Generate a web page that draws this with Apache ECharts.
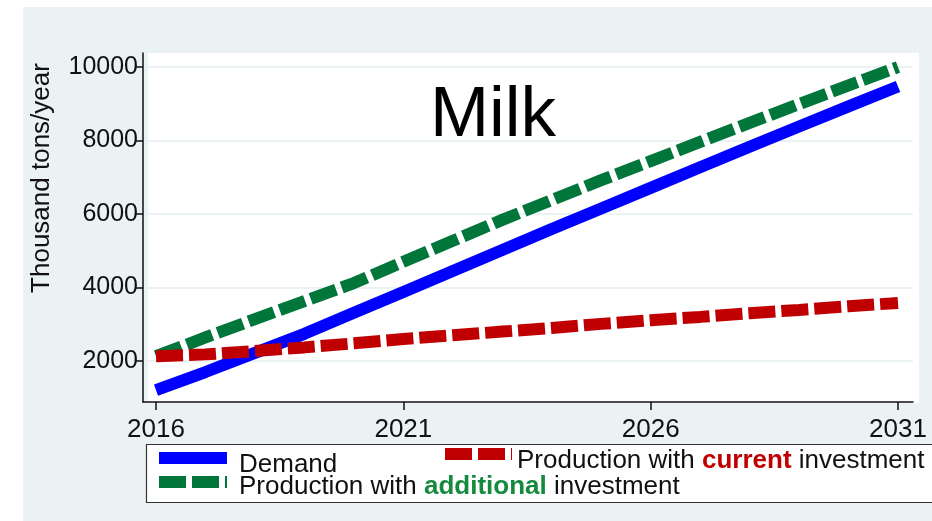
<!DOCTYPE html>
<html>
<head>
<meta charset="utf-8">
<script src="https://cdn.jsdelivr.net/npm/echarts@6/dist/echarts.min.js"></script>
<style>
  html, body { margin: 0; padding: 0; background: #fff; }
  #chart { width: 932px; height: 521px; }
</style>
</head>
<body>
<div id="chart"></div>
<script>
  // values (thousand tons/year)
  const years = [2016, 2017, 2018, 2019, 2020, 2021, 2022, 2023, 2024, 2025, 2026, 2027, 2028, 2029, 2030, 2031];
  const demand = [1210, 1700, 2220, 2740, 3310, 3880, 4450, 5020, 5590, 6150, 6710, 7270, 7830, 8380, 8930, 9470];
  const prodCurrent = [2130, 2180, 2270, 2370, 2480, 2600, 2700, 2800, 2900, 3010, 3110, 3200, 3300, 3390, 3490, 3580];
  const prodAdditional = [2130, 2640, 3140, 3630, 4120, 4700, 5270, 5840, 6380, 6920, 7440, 7960, 8480, 8990, 9500, 10000];
  const xTicks = [2016, 2021, 2026, 2031];
  const yTicks = [2000, 4000, 6000, 8000, 10000];

  const FONT = 'Liberation Sans, Arial, sans-serif';
  const BLUE = '#0000ff';
  const RED = '#c00000';
  const GREEN = '#00763a';

  function pairs(vals) {
    return years.map(function (y, i) { return [y, vals[i]]; });
  }

  let myChart = echarts.init(document.getElementById('chart'));
  let option = {
    animation: false,
    backgroundColor: '#ffffff',
    textStyle: { fontFamily: FONT },
    grid: { left: 143, right: 19, top: 53, bottom: 119, containLabel: false },
    xAxis: {
      type: 'value',
      min: 2015.737,
      max: 2031.303,
      axisLine: { show: true, lineStyle: { color: '#111', width: 1.5 } },
      axisTick: { show: true, length: 8, customValues: xTicks, lineStyle: { color: '#111', width: 1.5 } },
      axisLabel: { customValues: xTicks, color: '#111', fontSize: 26, fontFamily: FONT, margin: 15,
        formatter: function (v) { return String(v); } },
      splitLine: { show: false }
    },
    yAxis: {
      type: 'value',
      min: 884,
      max: 10381,
      axisLine: { show: true, lineStyle: { color: '#111', width: 1.5 } },
      axisTick: { show: true, length: 7, customValues: yTicks, lineStyle: { color: '#111', width: 1.5 } },
      axisLabel: { customValues: yTicks, color: '#111', fontSize: 25, fontFamily: FONT, margin: 5,
        formatter: function (v) { return String(v); } },
      splitLine: { show: true, lineStyle: { color: '#eaf2f3', width: 2 } }
    },
    graphic: [
      // outer background and white plot region
      { type: 'rect', z: -20, silent: true, shape: { x: 23, y: 7, width: 920, height: 520 }, style: { fill: '#eaf2f3' } },
      { type: 'rect', z: -10, silent: true, shape: { x: 148, y: 53, width: 771, height: 350 }, style: { fill: '#ffffff' } },
      // title inside the plot
      { type: 'text', z: 50, x: 493, y: 116, style: { text: 'Milk', font: '71px ' + FONT, fill: '#000', align: 'center', verticalAlign: 'middle' } },
      // y axis title
      { type: 'text', z: 50, x: 42, y: 178, rotation: Math.PI / 2, style: { text: 'Thousand tons/year', font: '26px ' + FONT, fill: '#111', align: 'center', verticalAlign: 'middle' } },
      // legend
      { type: 'rect', z: 60, shape: { x: 146.5, y: 444.5, width: 800, height: 58 }, style: { fill: '#ffffff', stroke: '#333', lineWidth: 1.2 } },
      { type: 'line', z: 61, shape: { x1: 159, y1: 458, x2: 227, y2: 458 }, style: { stroke: BLUE, lineWidth: 12 } },
      { type: 'text', z: 61, x: 239, y: 465, style: { text: 'Demand', font: '26px ' + FONT, fill: '#111', verticalAlign: 'middle' } },
      { type: 'line', z: 61, shape: { x1: 445, y1: 454, x2: 512, y2: 454 }, style: { stroke: RED, lineWidth: 12, lineDash: [27, 6] } },
      { type: 'text', z: 61, x: 517, y: 461, style: {
          text: 'Production with {c|current} investment', font: '26px ' + FONT, fill: '#111', verticalAlign: 'middle',
          rich: { c: { fontFamily: FONT, fontSize: 26, fontWeight: 'bold', fill: RED, color: RED } }
        } },
      { type: 'line', z: 61, shape: { x1: 159, y1: 482, x2: 227, y2: 482 }, style: { stroke: GREEN, lineWidth: 12, lineDash: [27, 6] } },
      { type: 'text', z: 61, x: 239, y: 487, style: {
          text: 'Production with {g|additional} investment', font: '26px ' + FONT, fill: '#111', verticalAlign: 'middle',
          rich: { g: { fontFamily: FONT, fontSize: 26, fontWeight: 'bold', fill: '#158a3e', color: '#158a3e' } }
        } }
    ],
    series: [
      {
        name: 'Demand',
        type: 'line',
        data: pairs(demand),
        showSymbol: false,
        z: 3,
        lineStyle: { color: BLUE, width: 12 },
        itemStyle: { color: BLUE }
      },
      {
        name: 'Production with additional investment',
        type: 'line',
        data: pairs(prodAdditional),
        showSymbol: false,
        z: 4,
        lineStyle: { color: GREEN, width: 12, type: [27, 6] },
        itemStyle: { color: GREEN }
      },
      {
        name: 'Production with current investment',
        type: 'line',
        data: pairs(prodCurrent),
        showSymbol: false,
        z: 5,
        lineStyle: { color: RED, width: 12, type: [27, 6] },
        itemStyle: { color: RED }
      }
    ]
  };
  myChart.setOption(option);
  window.onresize = myChart.resize;
</script>
</body>
</html>
